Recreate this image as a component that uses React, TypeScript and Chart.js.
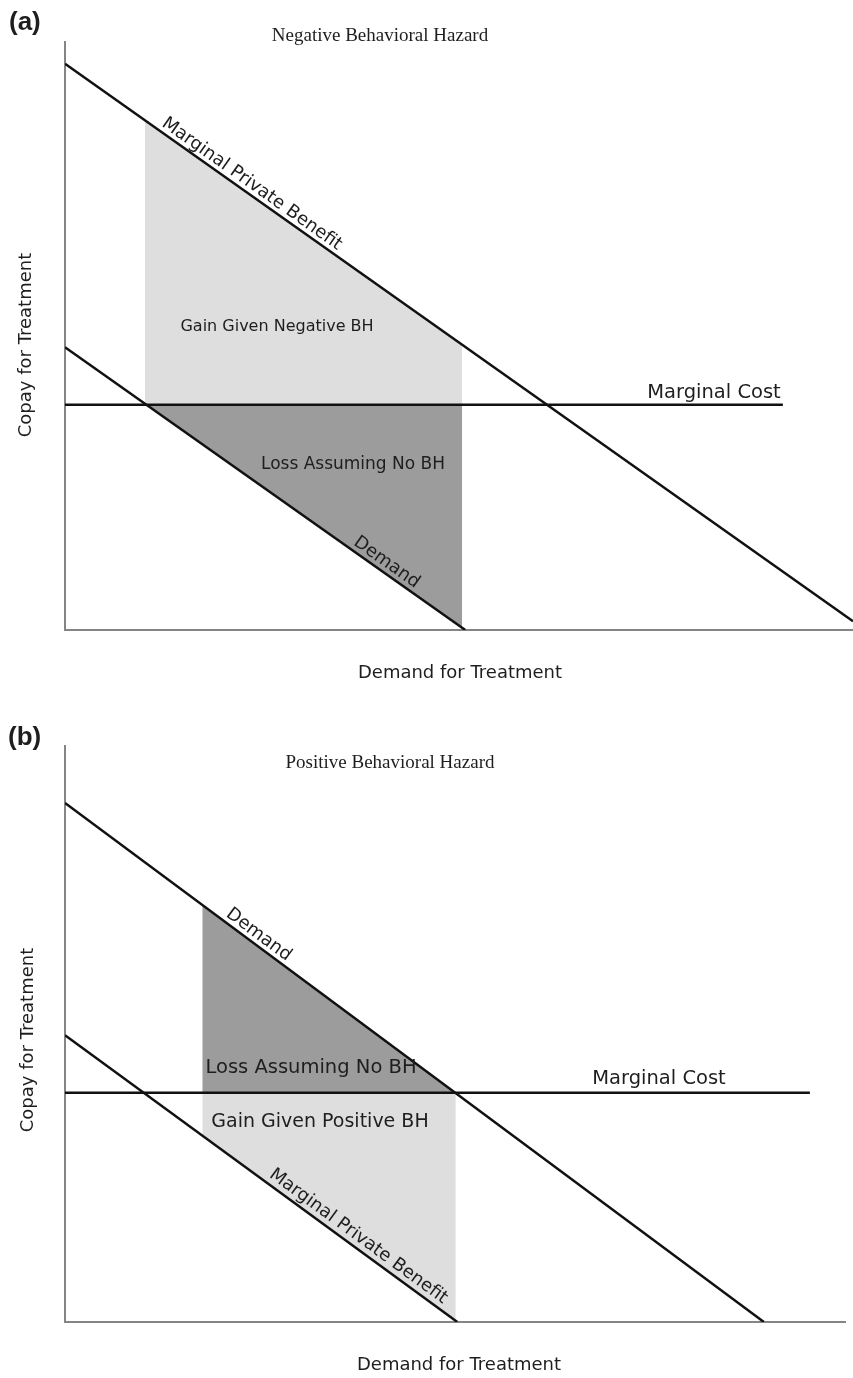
import React, { useEffect, useRef } from "react";
import { Chart, registerables } from "chart.js";

Chart.register(...registerables);

// ---------- DATA (value space: x 0–100 along demand axis, y 0–100 along copay axis) ----------
// Panel (a): Negative Behavioral Hazard
const A_MPB_X = [0, 100];
const A_MPB_Y = [96.3, 1.5];
const A_DEMAND_X = [0, 50.8];
const A_DEMAND_Y = [48.1, 0];
const A_MC_X = [0, 91.1];
const A_MC_LEVEL = 38.3;
const A_SHADE_X = [10.15, 50.4];

// Panel (b): Positive Behavioral Hazard
const B_DEMAND_X = [0, 89.6];
const B_DEMAND_Y = [90.1, 0];
const B_MPB_X = [0, 50.3];
const B_MPB_Y = [49.8, 0];
const B_MC_X = [0, 95.5];
const B_MC_LEVEL = 39.8;
const B_SHADE_X = [17.6, 50.1];

const AXIS_MIN = 0;
const AXIS_MAX = 100;

// ---------- helpers ----------
type Seg = { xs: number[]; ys: number[] };
const yAt = (s: Seg, x: number) => {
  const t = (x - s.xs[0]) / (s.xs[1] - s.xs[0]);
  return s.ys[0] + t * (s.ys[1] - s.ys[0]);
};
const pts = (s: Seg) => s.xs.map((x, i) => ({ x, y: s.ys[i] }));
const segPts = (s: Seg, range: number[]) => range.map((x) => ({ x, y: yAt(s, x) }));

const SANS = "'DejaVu Sans', 'Open Sans', sans-serif";
const SERIF = "'Liberation Serif', 'DejaVu Serif', serif";
const BOLD = "'Liberation Sans', Arial, sans-serif";
const LIGHT = "#dedede";
const DARK = "#9c9c9c";
const LINE = "#111111";
const AXIS = "#858585";
const TEXT = "#1e1e1e";

type FreeText = { text: string; x: number; y: number; font: string; align?: CanvasTextAlign; rotate?: number };
type LineText = { text: string; line: Seg; at: number; off: number; font: string };

interface Panel {
  height: number;
  padding: { left: number; top: number; right: number; bottom: number };
  lines: Seg[];
  shades: { line: Seg; range: number[]; level: number; color: string }[];
  texts: FreeText[];
  lineTexts: LineText[];
}

const aMPB: Seg = { xs: A_MPB_X, ys: A_MPB_Y };
const aDem: Seg = { xs: A_DEMAND_X, ys: A_DEMAND_Y };
const aMC: Seg = { xs: A_MC_X, ys: [A_MC_LEVEL, A_MC_LEVEL] };
const bDem: Seg = { xs: B_DEMAND_X, ys: B_DEMAND_Y };
const bMPB: Seg = { xs: B_MPB_X, ys: B_MPB_Y };
const bMC: Seg = { xs: B_MC_X, ys: [B_MC_LEVEL, B_MC_LEVEL] };

const panelA: Panel = {
  height: 690,
  padding: { left: 65, top: 42, right: 0, bottom: 60 },
  lines: [aMPB, aDem, aMC],
  shades: [
    { line: aMPB, range: A_SHADE_X, level: A_MC_LEVEL, color: LIGHT },
    { line: aDem, range: A_SHADE_X, level: A_MC_LEVEL, color: DARK },
  ],
  texts: [
    { text: "(a)", x: 9, y: 23, font: `bold 26px ${BOLD}`, align: "left" },
    { text: "Negative Behavioral Hazard", x: 380, y: 36, font: `19px ${SERIF}` },
    { text: "Gain Given Negative BH", x: 277, y: 327, font: `16px ${SANS}` },
    { text: "Loss Assuming No BH", x: 353, y: 465, font: `17px ${SANS}` },
    { text: "Marginal Cost", x: 714, y: 393, font: `19.5px ${SANS}` },
    { text: "Demand for Treatment", x: 460, y: 673, font: `18px ${SANS}` },
    { text: "Copay for Treatment", x: 26, y: 345, font: `18px ${SANS}`, rotate: -90 },
  ],
  lineTexts: [
    { text: "Marginal Private Benefit", line: aMPB, at: 23.0, off: 5, font: `18px ${SANS}` },
    { text: "Demand", line: aDem, at: 40.1, off: 5, font: `18px ${SANS}` },
  ],
};

const panelB: Panel = {
  height: 688,
  padding: { left: 65, top: 56, right: 8, bottom: 56 },
  lines: [bDem, bMPB, bMC],
  shades: [
    { line: bMPB, range: B_SHADE_X, level: B_MC_LEVEL, color: LIGHT },
    { line: bDem, range: B_SHADE_X, level: B_MC_LEVEL, color: DARK },
  ],
  texts: [
    { text: "(b)", x: 8, y: 48, font: `bold 26px ${BOLD}`, align: "left" },
    { text: "Positive Behavioral Hazard", x: 390, y: 73, font: `19px ${SERIF}` },
    { text: "Loss Assuming No BH", x: 311, y: 378, font: `19.5px ${SANS}` },
    { text: "Gain Given Positive BH", x: 320, y: 432, font: `19px ${SANS}` },
    { text: "Marginal Cost", x: 659, y: 389, font: `19.5px ${SANS}` },
    { text: "Demand for Treatment", x: 459, y: 675, font: `18px ${SANS}` },
    { text: "Copay for Treatment", x: 28, y: 350, font: `18px ${SANS}`, rotate: -90 },
  ],
  lineTexts: [
    { text: "Demand", line: bDem, at: 24.1, off: 5, font: `18px ${SANS}` },
    { text: "Marginal Private Benefit", line: bMPB, at: 36.8, off: 6, font: `18px ${SANS}` },
  ],
};

function makePanel(canvas: HTMLCanvasElement, p: Panel) {
  const datasets: any[] = [];
  p.lines.forEach((s) => {
    datasets.push({
      data: pts(s),
      borderColor: LINE,
      borderWidth: 2.5,
      pointRadius: 0,
      fill: false,
      tension: 0,
      order: 0,
    });
  });
  p.shades.forEach((sh) => {
    datasets.push({
      data: segPts(sh.line, sh.range),
      borderWidth: 0,
      borderColor: "rgba(0,0,0,0)",
      backgroundColor: sh.color,
      pointRadius: 0,
      fill: { value: sh.level },
      tension: 0,
      order: 1,
    });
  });

  const textPlugin = {
    id: "panelText",
    afterDraw(chart: any) {
      const ctx: CanvasRenderingContext2D = chart.ctx;
      const sx = chart.scales.x;
      const sy = chart.scales.y;
      ctx.save();
      ctx.fillStyle = TEXT;
      for (const t of p.texts) {
        ctx.save();
        ctx.font = t.font;
        ctx.textBaseline = "middle";
        ctx.textAlign = t.align || "center";
        ctx.translate(t.x, t.y);
        if (t.rotate) ctx.rotate((t.rotate * Math.PI) / 180);
        ctx.fillText(t.text, 0, 0);
        ctx.restore();
      }
      for (const l of p.lineTexts) {
        const x0 = sx.getPixelForValue(l.line.xs[0]);
        const y0 = sy.getPixelForValue(l.line.ys[0]);
        const x1 = sx.getPixelForValue(l.line.xs[1]);
        const y1 = sy.getPixelForValue(l.line.ys[1]);
        const ang = Math.atan2(y1 - y0, x1 - x0);
        const fx = sx.getPixelForValue(l.at);
        const fy = sy.getPixelForValue(yAt(l.line, l.at));
        ctx.save();
        ctx.font = l.font;
        ctx.textAlign = "center";
        ctx.textBaseline = "alphabetic";
        ctx.translate(fx, fy);
        ctx.rotate(ang);
        ctx.fillText(l.text, 0, -l.off);
        ctx.restore();
      }
      ctx.restore();
    },
  };

  const axis = {
    type: "linear" as const,
    min: AXIS_MIN,
    max: AXIS_MAX,
    grid: { display: false, drawTicks: false },
    ticks: { display: false },
    border: { display: true, color: AXIS, width: 2 },
  };

  return new Chart(canvas, {
    type: "line",
    data: { datasets },
    options: {
      animation: false,
      responsive: false,
      maintainAspectRatio: false,
      events: [],
      layout: { padding: p.padding },
      plugins: {
        legend: { display: false },
        tooltip: { enabled: false },
        title: { display: false },
      },
      scales: { x: axis, y: axis },
    },
    plugins: [textPlugin],
  });
}

export default function App() {
  const refA = useRef<HTMLCanvasElement>(null);
  const refB = useRef<HTMLCanvasElement>(null);
  useEffect(() => {
    const a = makePanel(refA.current as HTMLCanvasElement, panelA);
    const b = makePanel(refB.current as HTMLCanvasElement, panelB);
    return () => {
      a.destroy();
      b.destroy();
    };
  }, []);
  return (
    <div style={{ position: "absolute", left: 0, top: 0, width: 853, height: 1378, background: "#fff" }}>
      <canvas
        ref={refA}
        width={853}
        height={panelA.height}
        style={{ position: "absolute", left: 0, top: 0, width: 853, height: panelA.height }}
      />
      <canvas
        ref={refB}
        width={853}
        height={panelB.height}
        style={{ position: "absolute", left: 0, top: panelA.height, width: 853, height: panelB.height }}
      />
    </div>
  );
}
